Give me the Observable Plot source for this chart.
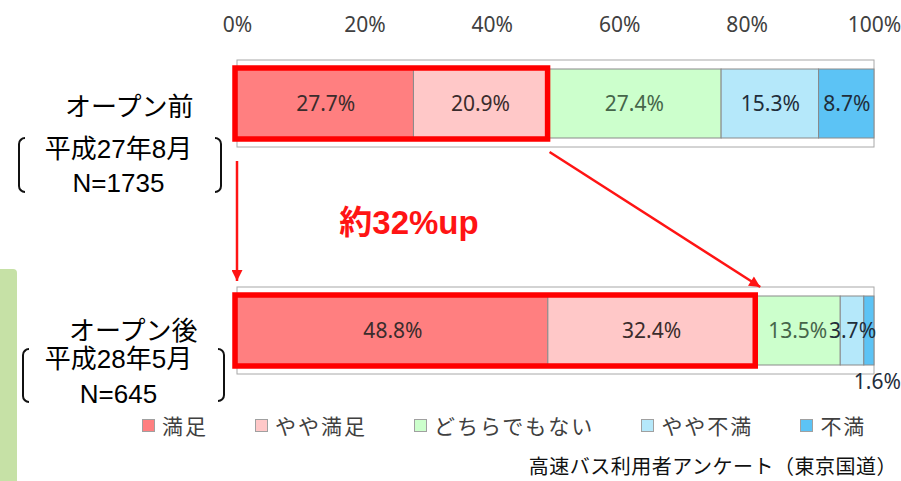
<!DOCTYPE html>
<html><head><meta charset="utf-8">
<script src="https://cdn.jsdelivr.net/npm/d3@7"></script>
<script src="https://cdn.jsdelivr.net/npm/@observablehq/plot@0.6"></script>
<style>
body{margin:0;background:#fff;}
#wrap{position:relative;width:901px;height:481px;overflow:hidden;font-family:"Noto Sans CJK JP",sans-serif;}
#chart{position:absolute;left:0;top:0;}
#strip{position:absolute;left:0;top:269px;width:17px;height:212px;background:#C6E1A6;border-top-right-radius:4px;}
.br{position:absolute;border:2px solid #111;width:7px;box-sizing:border-box;}
.bl{border-right:none;border-radius:10px 0 0 10px;}
.bR{border-left:none;border-radius:0 10px 10px 0;}
#legend{position:absolute;left:142px;top:410px;display:flex;align-items:center;gap:47px;font-size:21px;letter-spacing:2px;color:#404040;}
#legend .it{display:flex;align-items:center;}
#legend .sw{width:13px;height:13px;box-sizing:border-box;border:1px solid #a0a0a0;margin-right:7px;}
#caption{position:absolute;right:4px;top:455px;font-size:20px;line-height:22px;color:#111;white-space:nowrap;letter-spacing:0.5px;}
</style>
</head><body>
<div id="wrap">
  <div id="strip"></div>
  <div id="chart"></div>
  <div class="br bl" style="left:18px;top:137px;height:56px;"></div>
  <div class="br bR" style="left:215px;top:137px;height:56px;"></div>
  <div class="br bl" style="left:22px;top:348px;height:55px;"></div>
  <div class="br bR" style="left:218px;top:348px;height:54px;"></div>
  <div id="legend"></div>
  <div id="caption"></div>
</div>
<script>
// ---- data ----
const rows = ["オープン前", "オープン後"];
const dates = ["平成27年8月", "平成28年5月"];
const samples = ["N=1735", "N=645"];
const cats = ["満足", "やや満足", "どちらでもない", "やや不満", "不満"];
const before = [27.7, 20.9, 27.4, 15.3, 8.7];
const after = [48.8, 32.4, 13.5, 3.7, 1.6];
const ticks = [0, 20, 40, 60, 80, 100];
const colors = ["#FF7F80", "#FFC8C8", "#CCFFCC", "#B5E8FA", "#5CC3F5"];
const labelColors = ["#3a2c2c", "#3a2c2c", "#46654a", "#1f2d3a", "#1f2d3a"];
const annotation = "約32%up";
const caption = "高速バス利用者アンケート（東京国道）";
const highlightCount = 2; // 満足 + やや満足

// ---- derived tables ----
const series = [before, after];
const table = [];
rows.forEach((r, i) => {
  let acc = 0;
  cats.forEach((c, j) => {
    const v = series[i][j];
    table.push({row: r, cat: c, idx: j, value: v, x1: acc, x2: acc + v, mid: acc + v / 2, label: v.toFixed(1) + "%"});
    acc += v;
  });
});
const hl = rows.map((r, i) => ({row: r, x1: 0, x2: d3.sum(series[i].slice(0, highlightCount))}));
const frames = rows.map(r => ({row: r, x1: ticks[0], x2: ticks[ticks.length - 1]}));
const grid = rows.flatMap(r => ticks.map(t => ({row: r, t})));

const latin = '"Noto Sans", "Noto Sans CJK JP", sans-serif';
const labelFont = '"Liberation Sans", "Noto Sans CJK JP", sans-serif';
const titleDx = [-44, -40], titleDy = [3.5, 0.5];
const dateDy = [45.5, 28.5], nDy = [79.5, 63.5];

const marks = [
  Plot.axisX({anchor: "top", ticks, tickSize: 0, tickPadding: 28, tickFormat: d => d + "%", fontSize: 21, fontFamily: latin}),
  Plot.barX(frames, {x1: "x1", x2: "x2", y: "row", fill: "none", stroke: "#a8a8a8", insetTop: -9, insetBottom: -9}),
  Plot.ruleX(grid, {x: "t", y: "row", stroke: "#a8a8a8", insetTop: -9, insetBottom: -9}),
  Plot.barX(table, {x1: "x1", x2: "x2", y: "row", fill: "cat", stroke: "#8a8a8a", strokeWidth: 1}),
  Plot.barX(hl, {x1: "x1", x2: "x2", y: "row", fill: "none", stroke: "#FF0000", strokeWidth: 5.5, insetTop: -1, insetBottom: -1, insetRight: -1, insetLeft: -2})
];
cats.forEach((c, j) => {
  marks.push(Plot.text(table.filter(d => d.idx === j && d.value >= 3), {
    x: "mid", y: "row", text: "label", fill: labelColors[j], fontSize: 21, fontFamily: latin
  }));
});
marks.push(Plot.text(table.filter(d => d.value < 3), {
  x: "mid", y: "row", text: "label", fill: "#1f2d3a", fontSize: 21, fontFamily: latin, dy: 51, dx: 8
}));
rows.forEach((r, i) => {
  marks.push(Plot.text([r], {y: d => d, text: d => d, frameAnchor: "left", textAnchor: "end",
    dx: titleDx[i], dy: titleDy[i], fontSize: 26, fill: "#000", fontFamily: labelFont}));
  marks.push(Plot.text([r], {y: d => d, text: () => dates[i], frameAnchor: "left", textAnchor: "middle",
    dx: -119, dy: dateDy[i], fontSize: 26, fill: "#000", fontFamily: labelFont}));
  marks.push(Plot.text([r], {y: d => d, text: () => samples[i], frameAnchor: "left", textAnchor: "middle",
    dx: -119, dy: nDy[i], fontSize: 26, fill: "#000", fontFamily: labelFont}));
});

const chart = Plot.plot({
  width: 901, height: 481,
  marginLeft: 237, marginRight: 27, marginTop: 59, marginBottom: 106,
  style: {fontFamily: latin, color: "#404040", background: "transparent", overflow: "visible"},
  x: {domain: [ticks[0], ticks[ticks.length - 1]], axis: null},
  y: {domain: rows, axis: null, paddingInner: 0.697, paddingOuter: 0.0417},
  color: {domain: cats, range: colors},
  marks
});
document.getElementById("chart").appendChild(chart);

// ---- annotations positioned through the plot's scales ----
const sx = chart.scale("x"), sy = chart.scale("y");
const bw = sy.bandwidth;
const bandTop = r => sy.apply(r), bandBot = r => sy.apply(r) + bw;
const svg = d3.select(chart);
const red = "#FF1414";
svg.append("defs").append("marker")
  .attr("id", "ah").attr("viewBox", "0 0 10 10").attr("refX", 10).attr("refY", 5)
  .attr("markerWidth", 12).attr("markerHeight", 11).attr("markerUnits", "userSpaceOnUse")
  .attr("orient", "auto")
  .append("path").attr("d", "M0,0L10,5L0,10z").attr("fill", red);
const g = svg.append("g");
g.append("line")
  .attr("x1", sx.apply(0)).attr("y1", bandBot(rows[0]) + 23)
  .attr("x2", sx.apply(0)).attr("y2", bandTop(rows[1]) - 15)
  .attr("stroke", red).attr("stroke-width", 2.5).attr("marker-end", "url(#ah)");
g.append("line")
  .attr("x1", sx.apply(hl[0].x2) + 3).attr("y1", bandBot(rows[0]) + 14)
  .attr("x2", sx.apply(hl[1].x2) + 6).attr("y2", bandTop(rows[1]) - 9)
  .attr("stroke", red).attr("stroke-width", 2.5).attr("marker-end", "url(#ah)");
g.append("text")
  .attr("x", sx.apply(27)).attr("y", (bandBot(rows[0]) + bandTop(rows[1])) / 2 + 5)
  .attr("text-anchor", "middle").attr("dy", "0.35em")
  .attr("font-family", '"Liberation Sans", "Noto Sans CJK JP", sans-serif')
  .attr("font-weight", "bold").attr("font-size", 33).attr("fill", red)
  .text(annotation);

// ---- legend & caption ----
const legend = d3.select("#legend");
cats.forEach((c, j) => {
  const it = legend.append("div").attr("class", "it");
  it.append("div").attr("class", "sw").style("background", colors[j]);
  it.append("span").text(c);
});
d3.select("#caption").text(caption);
</script>
</body></html>
